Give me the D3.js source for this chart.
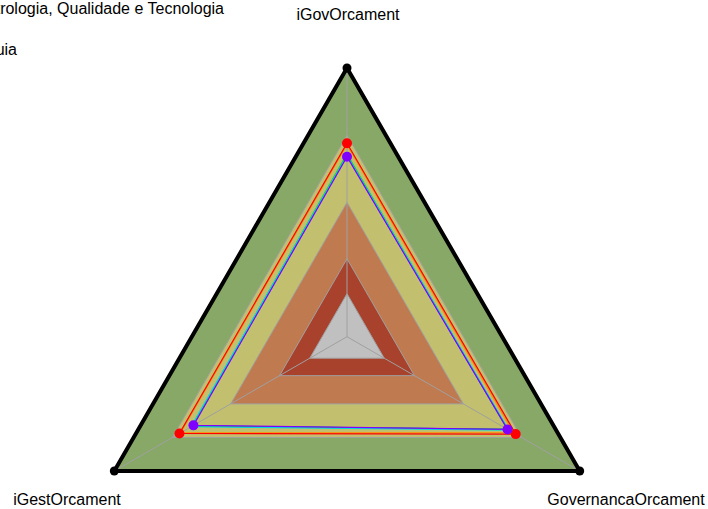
<!DOCTYPE html>
<html>
<head>
<meta charset="utf-8">
<script src="https://cdn.jsdelivr.net/npm/d3@7"></script>
<style>
  body { margin: 0; background: #fff; }
  svg { font-family: "Liberation Sans", Arial, sans-serif; }
</style>
</head>
<body>
<svg id="radar" width="708" height="509"></svg>
<script>
// axes of the radar
const axes = ["iGovOrcament", "GovernancaOrcament", "iGestOrcament"];

// background bands (outer limit of each, drawn from outside in)
const bandLimits = [1, 0.75, 0.5, 0.29, 0.16];
const bandColors = ["#88a868", "#c2c06e", "#c07a50", "#a8422c", "#c0c0c0"];

// series
const seriesNames = ["Orgao A", "Orgao B", "Orgao C", "Orgao D", "Orgao E", "Orgao F"];
const seriesColors = ["#ff8c00", "#0070ff", "#00e000", "#00d8e0", "#ff0000", "#8000ff"];
const seriesValues = [
  [0.715, 0.715, 0.715],
  [0.675, 0.69, 0.665],
  [0.68, 0.69, 0.665],
  [0.675, 0.695, 0.67],
  [0.72, 0.725, 0.72],
  [0.67, 0.69, 0.66]
];
const showPoints = [false, false, false, false, true, true];

// legend (cut off at the left edge)
const legendLabels = ["Instituto Nacional de Metrologia, Qualidade e Tecnologia", "Media do Orgao de Referencia do Guia"];

const cx = 347, cy = 336.7, R = 268.7;
const svg = d3.select('#radar');
const r = d3.scaleLinear().domain([0, 1]).range([0, R]);
const angle = d3.scaleOrdinal().domain(axes).range([-Math.PI / 2, Math.PI / 6, 5 * Math.PI / 6]);

function pt(axis, v) {
  const a = angle(axis);
  return [cx + r(v) * Math.cos(a), cy + r(v) * Math.sin(a)];
}
const line = d3.line().curve(d3.curveLinearClosed);

// bands
svg.append('g').selectAll('path')
  .data(bandLimits)
  .enter().append('path')
  .attr('d', function(d) { return line(axes.map(a => pt(a, d))); })
  .attr('fill', (d, i) => bandColors[i])
  .attr('stroke', '#a0a0a0')
  .attr('stroke-width', 1);

// spokes
svg.append('g').selectAll('line')
  .data(axes)
  .enter().append('line')
  .attr('x1', cx).attr('y1', cy)
  .attr('x2', d => pt(d, 1)[0])
  .attr('y2', d => pt(d, 1)[1])
  .attr('stroke', '#a0a0a0')
  .attr('stroke-width', 1);

// series lines
seriesValues.forEach(function(vals, i) {
  svg.append('path')
    .attr('d', line(axes.map((a, j) => pt(a, vals[j]))))
    .attr('fill', 'none')
    .attr('stroke', seriesColors[i])
    .attr('stroke-width', 1.2);
});
seriesValues.forEach(function(vals, i) {
  if (!showPoints[i]) return;
  svg.append('g').selectAll('circle')
    .data(vals)
    .enter().append('circle')
    .attr('cx', (d, j) => pt(axes[j], d)[0])
    .attr('cy', (d, j) => pt(axes[j], d)[1])
    .attr('r', 5)
    .attr('fill', seriesColors[i]);
});

// outer frame
svg.append('path')
  .attr('d', line(axes.map(a => pt(a, 1))))
  .attr('fill', 'none')
  .attr('stroke', '#000')
  .attr('stroke-width', 4)
  .attr('stroke-linejoin', 'round');
svg.append('g').selectAll('circle')
  .data(axes)
  .enter().append('circle')
  .attr('cx', d => pt(d, 1)[0])
  .attr('cy', d => pt(d, 1)[1])
  .attr('r', 4.5)
  .attr('fill', '#000');

// axis labels
const labelPos = { "iGovOrcament": [348, 20], "GovernancaOrcament": [626, 505], "iGestOrcament": [67, 505] };
svg.append('g').selectAll('text')
  .data(axes)
  .enter().append('text')
  .attr('x', d => labelPos[d][0])
  .attr('y', d => labelPos[d][1])
  .attr('text-anchor', 'middle')
  .attr('font-size', 16)
  .attr('fill', '#000')
  .text(d => d);

// legend
svg.append('g').selectAll('text')
  .data(legendLabels)
  .enter().append('text')
  .attr('x', (d, i) => i === 0 ? 224 : 17)
  .attr('y', (d, i) => 14 + i * 41)
  .attr('text-anchor', 'end')
  .attr('font-size', 16)
  .attr('fill', '#000')
  .text(d => d);
</script>
</body>
</html>
